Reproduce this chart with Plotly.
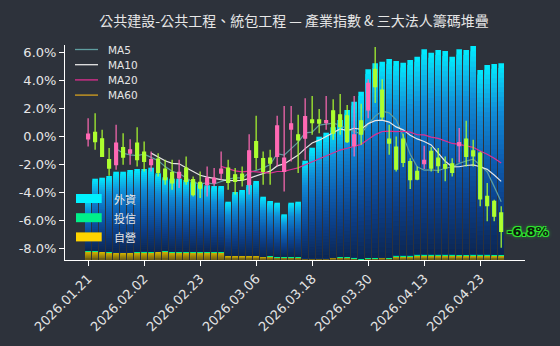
import pandas as pd
import plotly.graph_objects as go

TITLE = "公共建設-公共工程、統包工程 — 產業指數 & 三大法人籌碼堆疊"

# trading days
dates = [
    "2026.01.21", "2026.01.22", "2026.01.23", "2026.01.26", "2026.01.27", "2026.01.28",
    "2026.01.29", "2026.01.30", "2026.02.02", "2026.02.03", "2026.02.04", "2026.02.05",
    "2026.02.06", "2026.02.09", "2026.02.10", "2026.02.11", "2026.02.23", "2026.02.24",
    "2026.02.25", "2026.02.26", "2026.03.02", "2026.03.03", "2026.03.04", "2026.03.05",
    "2026.03.06", "2026.03.09", "2026.03.10", "2026.03.11", "2026.03.12", "2026.03.13",
    "2026.03.16", "2026.03.17", "2026.03.18", "2026.03.19", "2026.03.20", "2026.03.23",
    "2026.03.24", "2026.03.25", "2026.03.26", "2026.03.27", "2026.03.30", "2026.03.31",
    "2026.04.01", "2026.04.02", "2026.04.07", "2026.04.08", "2026.04.09", "2026.04.10",
    "2026.04.13", "2026.04.14", "2026.04.15", "2026.04.16", "2026.04.17", "2026.04.20",
    "2026.04.21", "2026.04.22", "2026.04.23", "2026.04.24", "2026.04.27", "2026.04.28",
]

# sector index, % change (OHLC)
open_ = [
    -0.17, 0.29, -0.16, -1.66, -2.02, -0.79, -1.19, -0.47, -1.11, -2.02,
    -1.61, -2.33, -2.57, -2.97, -2.26, -3.09, -3.29, -3.45, -3.33, -2.62,
    -2.26, -2.74, -2.69, -3.45, -0.36, -1.59, -1.54, -1.43, -2.50, 0.53,
    0.12, -0.11, 1.19, 1.19, 1.00, 1.84, 1.55, 1.48, -0.66, 1.12,
    1.91, 4.81, 3.33, -0.19, -0.76, -0.19, -1.79, -2.50, -1.95, -1.07,
    -1.55, -2.02, -1.95, -0.66, -0.19, -1.02, -1.19, -4.29, -4.64, -5.47,
]
high = [
    1.31, 1.67, 0.48, -0.83, 0.84, 0.24, -0.19, 0.67, -0.36, -1.07,
    -1.19, -1.66, -1.66, -1.66, -1.43, -2.86, -2.50, -2.14, -2.26, -1.07,
    -1.66, -2.26, -2.14, 0.17, 1.48, -1.07, -0.95, 1.48, 2.19, 2.19,
    1.55, 2.74, 2.90, 1.96, 2.90, 2.67, 3.05, 2.26, 2.90, 2.34,
    4.10, 6.40, 4.10, 0.84, 0.00, 0.19, -1.55, -2.14, -0.66, -0.76,
    -0.83, -1.43, -1.55, 0.60, 1.12, -0.24, -1.07, -3.33, -4.52, -5.00,
]
low = [
    -0.71, -0.95, -1.47, -2.81, -2.38, -2.02, -2.02, -2.14, -2.50, -2.50,
    -2.86, -3.45, -3.81, -3.69, -3.45, -4.29, -4.40, -4.29, -3.57, -3.09,
    -3.81, -4.16, -3.57, -4.16, -2.38, -3.45, -3.45, -2.14, -3.93, -1.79,
    -2.62, -1.66, 0.12, 0.24, 0.48, -0.24, 0.12, -0.47, -1.43, -0.59,
    1.31, 2.39, 1.19, -1.31, -2.50, -2.19, -3.76, -3.14, -2.33, -2.50,
    -2.62, -3.21, -2.86, -1.86, -2.14, -2.14, -5.00, -6.07, -6.07, -7.97,
]
close = [
    0.17, -0.36, -1.43, -2.26, -0.47, -1.47, -0.95, -1.66, -1.79, -1.66,
    -2.57, -3.09, -3.33, -2.57, -3.21, -4.16, -3.69, -2.97, -2.97, -2.33,
    -3.29, -3.21, -3.09, -1.02, -1.50, -2.50, -1.90, 0.76, -1.54, 0.91,
    -0.24, 1.43, 1.00, 0.96, 1.14, 0.24, 0.71, -0.36, 0.12, 0.17,
    3.81, 3.57, 1.40, -0.47, -2.33, -1.86, -3.09, -3.05, -1.71, -2.26,
    -2.09, -2.26, -2.57, -0.43, -1.43, -1.38, -4.47, -4.95, -5.71, -6.80,
]

# institutional holdings (萬張), stacked
foreign_inv = [
    5.29, 7.22, 7.38, 7.52, 8.05, 8.05, 8.22, 8.29, 8.22, 8.42,
    7.82, 7.36, 7.32, 7.32, 7.19, 7.02, 6.86, 6.61, 6.59, 6.59,
    5.38, 6.35, 6.55, 7.05, 7.45, 5.95, 5.45, 5.42, 4.26, 5.35,
    5.53, 9.75, 11.05, 12.15, 12.55, 13.02, 13.68, 14.68, 15.55, 16.70,
    18.87, 19.47, 19.56, 19.90, 19.41, 19.24, 19.51, 19.74, 20.48, 20.14,
    20.41, 20.31, 19.74, 20.51, 20.44, 20.81, 18.41, 18.91, 19.04, 19.11,
]
trust = [
    0.03, 0.03, 0.03, 0.13, 0.03, 0.03, 0.03, 0.03, 0.10, 0.03,
    0.03, 0.03, 0.03, 0.03, 0.03, 0.03, 0.03, 0.08, 0.03, 0.03,
    0.03, 0.03, 0.03, 0.03, 0.03, 0.03, 0.10, 0.03, 0.03, 0.10,
    0.08, 0.03, 0.03, 0.03, 0.03, 0.03, 0.10, 0.10, 0.13, 0.05,
    0.05, 0.05, 0.05, 0.05, 0.14, 0.14, 0.14, 0.14, 0.14, 0.14,
    0.14, 0.14, 0.14, 0.14, 0.14, 0.14, 0.14, 0.14, 0.14, 0.14,
]
dealer = [
    0.88, 0.88, 0.82, 0.75, 0.75, 0.75, 0.75, 0.78, 0.78, 0.78,
    0.82, 0.88, 0.78, 0.78, 0.78, 0.78, 0.78, 0.78, 0.78, 0.78,
    0.42, 0.42, 0.42, 0.42, 0.42, 0.35, 0.35, 0.28, 0.28, 0.28,
    0.22, 0.15, 0.15, 0.15, 0.15, 0.22, 0.22, 0.22, 0.15, 0.08,
    0.15, 0.15, 0.22, 0.15, 0.35, 0.35, 0.35, 0.45, 0.45, 0.45,
    0.45, 0.45, 0.45, 0.42, 0.42, 0.45, 0.45, 0.45, 0.42, 0.42,
]

ma_windows = [5, 10, 20, 60]
ma_colors = ["#5f9ea0", "#e6e6e6", "#de2f91", "#d4a020"]
inst_names = ["外資", "投信", "自營"]
inst_colors = ["#00f2ff", "#00f08a", "#ffd400"]

BG = "#2d323b"
UP = "#ff69b4"
DOWN = "#adff2f"
TXT = "#e6e6e6"

BLUE_STOPS = [(0.0, (12, 38, 82)), (0.25, (12, 62, 135)), (0.5, (13, 95, 178)),
              (0.75, (16, 140, 215)), (0.9, (12, 195, 238)), (1.0, (0, 238, 255))]
GOLD_STOPS = [(0.0, (105, 92, 22)), (0.5, (160, 135, 10)), (1.0, (222, 190, 0))]

W, H = 560, 346
ML, MR, MT, MB = 65, 35, 45, 86


def px_x(px):
    return (px - ML) / (W - ML - MR)


def px_y(py):
    return (H - MB - py) / (H - MT - MB)


def grad(stops, p):
    for (p0, c0), (p1, c1) in zip(stops[:-1], stops[1:]):
        if p <= p1:
            t = (p - p0) / (p1 - p0)
            r, g, b = (round(a + (bb - a) * t) for a, bb in zip(c0, c1))
            return f"rgb({r},{g},{b})"
    r, g, b = stops[-1][1]
    return f"rgb({r},{g},{b})"


idx = list(range(len(dates)))
fig = go.Figure()


# gradient bars: overlaid layers, each shorter one repainting the lower part
def gradient_bar(values, base, stops, layers):
    for k in range(layers):
        f = (layers - k) / layers
        fig.add_bar(
            x=idx, y=[v * f for v in values], base=base, width=0.8,
            marker=dict(color=grad(stops, f - 0.5 / layers), line=dict(width=0)),
            yaxis="y", hoverinfo="skip", showlegend=False,
        )


gradient_bar(dealer, [0] * len(idx), GOLD_STOPS, 8)
fig.add_bar(x=idx, y=trust, base=dealer, width=0.8,
            marker=dict(color=inst_colors[1], line=dict(width=0)),
            yaxis="y", hoverinfo="skip", showlegend=False)
gradient_bar(foreign_inv, [d + t for d, t in zip(dealer, trust)], BLUE_STOPS, 40)

# moving averages
close_s = pd.Series(close)
for w, c in zip(ma_windows, ma_colors):
    ma = close_s.rolling(w).mean()
    fig.add_scatter(x=idx, y=[None if pd.isna(v) else v for v in ma], mode="lines",
                    line=dict(color=c, width=1.2), name=f"MA{w}", yaxis="y2",
                    showlegend=False)

fig.add_trace(go.Candlestick(
    x=idx, open=open_, high=high, low=low, close=close,
    increasing=dict(line=dict(color=UP, width=1.2), fillcolor=UP),
    decreasing=dict(line=dict(color=DOWN, width=1.2), fillcolor=DOWN),
    whiskerwidth=0, yaxis="y3", showlegend=False,
))

shapes = []
annotations = []

# last value tag
glow = "#2ee62e"
annotations.append(dict(
    x=idx[-1], y=close[-1], xref="x", yref="y3", text=f"{close[-1]:.1f}%",
    showarrow=False, xanchor="left", yanchor="middle", xshift=4,
    font=dict(family="DejaVu Sans", size=13, color="#0c1a0c", weight="bold",
              shadow=f"1px 1px 0 {glow}, -1px -1px 0 {glow}, 1px -1px 0 {glow}, "
                     f"-1px 1px 0 {glow}, 0 0 4px {glow}"),
))

# MA legend
for i, (w, c) in enumerate(zip(ma_windows, ma_colors)):
    yy = 49.5 + i * 15.2
    shapes.append(dict(type="line", xref="paper", yref="paper",
                       x0=px_x(75), x1=px_x(98), y0=px_y(yy), y1=px_y(yy),
                       line=dict(color=c, width=1.3)))
    annotations.append(dict(xref="paper", yref="paper", x=px_x(106), y=px_y(yy),
                            text=f"MA{w}", showarrow=False, xanchor="left", yanchor="middle",
                            font=dict(family="DejaVu Sans", size=10.5, color=TXT)))

# institutional legend
for i, (nm, c) in enumerate(zip(inst_names, inst_colors)):
    yc = 198.5 + i * 19.2
    shapes.append(dict(type="rect", xref="paper", yref="paper",
                       x0=px_x(76), x1=px_x(101.7), y0=px_y(yc + 4.5), y1=px_y(yc - 4.5),
                       fillcolor=c, line=dict(width=0)))
    annotations.append(dict(xref="paper", yref="paper", x=px_x(112), y=px_y(yc),
                            text=nm, showarrow=False, xanchor="left", yanchor="middle",
                            font=dict(family="Noto Sans CJK TC", size=11, color=TXT)))

ytick_vals = [-8, -6, -4, -2, 0, 2, 4, 6]
ytick_text = [f"{v:.1f}%" for v in ytick_vals]
y_range = [-8.84, 6.55]

fig.update_layout(
    width=W, height=H, margin=dict(l=ML, r=MR, t=MT, b=MB),
    paper_bgcolor=BG, plot_bgcolor=BG,
    barmode="overlay", boxgap=0.4, showlegend=False,
    title=dict(text=TITLE, x=0.525, xanchor="center", y=1 - 21 / H, yanchor="middle",
               font=dict(family="Noto Sans CJK TC", size=14, color=TXT)),
    xaxis=dict(range=[-3.3, 62.4], tickmode="array", tickvals=idx[::8], ticktext=dates[::8],
               tickangle=-45, showline=True, linecolor="white", linewidth=1,
               ticks="outside", ticklen=5, tickcolor="white", showgrid=False, zeroline=False,
               rangeslider=dict(visible=False),
               tickfont=dict(family="DejaVu Sans", size=13, color=TXT)),
    yaxis=dict(range=[0, 21.5], visible=False, fixedrange=True),
    yaxis2=dict(overlaying="y", side="left", range=y_range, tickmode="array",
                tickvals=ytick_vals, ticktext=ytick_text, showline=True, linecolor="white",
                linewidth=1, ticks="outside", ticklen=5, tickcolor="white",
                showgrid=False, zeroline=False,
                tickfont=dict(family="DejaVu Sans", size=13, color=TXT)),
    yaxis3=dict(overlaying="y", range=y_range, visible=False),
    shapes=shapes, annotations=annotations,
)

fig.write_html("out.html")
